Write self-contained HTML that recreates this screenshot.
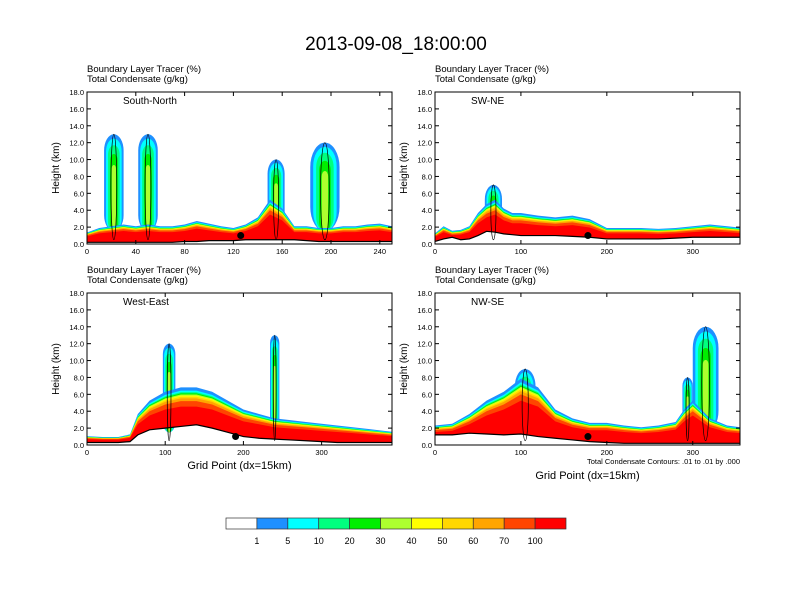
<!DOCTYPE html>
<html><head><meta charset="utf-8"><style>
body{margin:0;background:#fff;}
svg{display:block;font-family:"Liberation Sans",Arial,sans-serif;}
</style></head><body>
<svg id="fig" width="792" height="612" viewBox="0 0 792 612">
<text x="396" y="50" font-size="19" text-anchor="middle">2013-09-08_18:00:00</text>
</svg>
<script>
// ---- data (heights in km, x in grid points) ----
const p1X=[0,10,20,30,40,50,60,70,80,90,100,110,120,130,140,150,160,170,180,190,200,210,220,230,240,250];
const p1BL=[1.3,1.8,2.0,2.2,2.0,2.2,2.0,2.0,2.2,2.6,2.3,2.0,1.8,2.2,3.0,5.0,4.0,2.0,2.0,1.8,1.8,2.0,2.0,2.2,2.3,2.0];
const p1Ter=[0.2,0.2,0.2,0.2,0.2,0.2,0.2,0.2,0.3,0.3,0.4,0.4,0.4,0.5,0.5,0.5,0.5,0.5,0.4,0.3,0.3,0.3,0.3,0.3,0.3,0.3];
const p1Plumes=[[22,16,13],[50,16,13],[155,14,10],[195,24,12]];
const p2X=[0,10,20,30,40,50,60,70,80,90,100,120,140,160,180,200,220,240,260,280,300,320,340,360];
const p2BL=[1.2,2.0,1.5,1.6,2.0,3.5,4.5,5.0,4.0,3.5,3.5,3.2,3.0,3.2,2.8,1.8,1.8,1.8,1.7,1.8,2.0,2.2,2.0,1.8];
const p2Ter=[0.3,0.6,0.8,0.5,0.6,1.0,1.5,1.4,1.2,1.1,1.0,1.0,1.0,0.9,0.8,0.6,0.6,0.6,0.6,0.7,0.8,0.8,0.8,0.8];
const p2Plumes=[[68,20,7]];
const p3X=[0,20,40,55,65,80,100,120,140,160,180,200,220,240,260,280,300,320,340,360,390];
const p3BL=[1.0,0.9,0.9,1.2,3.5,5.0,6.0,6.5,6.5,6.0,5.0,4.0,3.5,3.0,2.8,2.6,2.4,2.2,2.0,1.8,1.5];
const p3Ter=[0.3,0.3,0.3,0.4,1.2,1.8,2.0,2.2,2.4,2.0,1.5,1.0,0.8,0.7,0.6,0.5,0.4,0.3,0.3,0.3,0.3];
const p3Plumes=[[105,16,12],[240,12,13]];
const p4X=[0,20,40,60,80,100,120,140,160,180,200,220,240,260,280,290,300,320,340,355];
const p4BL=[2.2,2.4,3.5,5.0,6.0,7.5,6.5,4.0,3.0,2.5,2.5,2.2,2.0,2.2,2.6,4.0,5.0,3.0,2.2,2.0];
const p4Ter=[1.2,1.2,1.4,1.3,1.2,1.3,1.0,0.8,0.6,0.4,0.3,0.2,0.2,0.2,0.2,0.2,0.2,0.2,0.2,0.2];
const p4Plumes=[[105,24,9],[294,12,8],[315,30,14]];
const colorLabels=["1","5","10","20","30","40","50","60","70","100"];
const colors=["#ffffff","#1e90ff","#00ffff","#00ff7f","#00ee00","#adff2f","#ffff00","#ffd700","#ffa500","#ff4500","#ff0000"];
const bandFrac=[1.05,0.99,0.96,0.94,0.92,0.9,0.88,0.85,0.8,0.7];

const panels=[
 {name:"south-north",label:"South-North",x0:87,y0:92,xmax:250,ticks:[0,40,80,120,160,200,240],X:p1X,BL:p1BL,T:p1Ter,P:p1Plumes,dot:126,xlabel:false},
 {name:"sw-ne",label:"SW-NE",x0:435,y0:92,xmax:355,ticks:[0,100,200,300],X:p2X,BL:p2BL,T:p2Ter,P:p2Plumes,dot:178,xlabel:false},
 {name:"west-east",label:"West-East",x0:87,y0:293,xmax:390,ticks:[0,100,200,300],X:p3X,BL:p3BL,T:p3Ter,P:p3Plumes,dot:190,xlabel:true},
 {name:"nw-se",label:"NW-SE",x0:435,y0:293,xmax:355,ticks:[0,100,200,300],X:p4X,BL:p4BL,T:p4Ter,P:p4Plumes,dot:178,xlabel:true,note:true}
];
const W=305,H=152,NS="http://www.w3.org/2000/svg";
const svg=document.getElementById('fig');
function mk(tag,attrs,parent){const e=document.createElementNS(NS,tag);for(const k in attrs)e.setAttribute(k,attrs[k]);(parent||svg).appendChild(e);return e;}

panels.forEach(p=>{
 const g=mk('g',{});
 
 
 const sx=v=>p.x0+v/p.xmax*W, sy=v=>p.y0+H-v/18*H;
 const clipId='c'+p.name;
 const cp=mk('clipPath',{id:clipId},g);mk('rect',{x:p.x0,y:p.y0,width:W,height:H},cp);
 const plot=mk('g',{'clip-path':'url(#'+clipId+')'},g);
 // plumes
 p.P.forEach(pl=>{
  const [cx,w,top]=pl;
  [["#1e90ff",1.0,1.0],["#00ffff",0.96,0.8],["#00ff7f",0.9,0.6],["#00ee00",0.82,0.4],["#adff2f",0.72,0.22]].forEach(([c,tf,wf])=>{
   const t=top*tf, b=1.5;
   const ww=Math.max(1,sx(w*wf)-sx(0));
   const r=mk('rect',{x:sx(cx)-ww/2,y:sy(t),width:ww,height:sy(b)-sy(t),rx:ww/2,ry:ww/1.2,fill:c},plot);
   
   
  });
 });
 // boundary layer bands
 bandFrac.forEach((f,i)=>{
  let d='M'+sx(p.X[0])+','+sy(p.T[0]);
  p.X.forEach((x,j)=>{d+=' L'+sx(x)+','+sy(Math.max(p.T[j],p.BL[j]*f));});
  for(let j=p.X.length-1;j>=0;j--)d+=' L'+sx(p.X[j])+','+sy(p.T[j]);
  const path=mk('path',{d:d+'Z',fill:colors[i+1]},plot);
  
  
 });
 // terrain line
 let td='';p.X.forEach((x,j)=>{td+=(j?' L':'M')+sx(x)+','+sy(p.T[j]);});
 const tl=mk('path',{d:td,fill:'none',stroke:'#000','stroke-width':1.2},plot);
 
 
 // plume contours
 p.P.forEach(pl=>{
  const [cx,w,top]=pl;
  const e=mk('ellipse',{cx:sx(cx),cy:(sy(top)+sy(0.5))/2,rx:(sx(w*0.3)-sx(0))/2,ry:(sy(0.5)-sy(top))/2,fill:'none',stroke:'#000','stroke-width':0.7},plot);
  
  
 });
 const dot=mk('circle',{cx:sx(p.dot),cy:sy(1.0),r:3.5,fill:'#000'},plot);
 
 
 mk('rect',{x:p.x0,y:p.y0,width:W,height:H,fill:'none',stroke:'#000','stroke-width':1},g);
 for(let v=0;v<=18;v+=2){
  mk('line',{x1:p.x0,x2:p.x0+4,y1:sy(v),y2:sy(v),stroke:'#000'},g);
  mk('line',{x1:p.x0+W,x2:p.x0+W-4,y1:sy(v),y2:sy(v),stroke:'#000'},g);
  const t=mk('text',{x:p.x0-3,y:sy(v)+3,'font-size':7.5,'text-anchor':'end'},g);t.textContent=v.toFixed(1);
  
  
 }
 p.ticks.forEach(v=>{
  mk('line',{x1:sx(v),x2:sx(v),y1:p.y0+H,y2:p.y0+H-4,stroke:'#000'},g);
  mk('line',{x1:sx(v),x2:sx(v),y1:p.y0,y2:p.y0+4,stroke:'#000'},g);
  const t=mk('text',{x:sx(v),y:p.y0+H+10,'font-size':7.5,'text-anchor':'middle'},g);t.textContent=v;
  
  
 });
 const yt=mk('text',{x:0,y:0,'font-size':10,'text-anchor':'middle',transform:`translate(${p.x0-28},${p.y0+H/2}) rotate(-90)`},g);yt.textContent='Height (km)';
 
 
 const l1=mk('text',{x:p.x0,y:p.y0-20,'font-size':9.5},g);l1.textContent='Boundary Layer Tracer   (%)';
 
 
 const l2=mk('text',{x:p.x0,y:p.y0-10,'font-size':9.5},g);l2.textContent='Total Condensate   (g/kg)';
 
 
 const pl=mk('text',{x:p.x0+36,y:p.y0+12,'font-size':10},g);pl.textContent=p.label;
 
 
 if(p.xlabel){
  const xt=mk('text',{x:p.x0+W/2,y:p.y0+H+24+(p.note?10:0),'font-size':11,'text-anchor':'middle'},g);xt.textContent='Grid Point (dx=15km)';
  
  
 }
 if(p.note){
  const n=mk('text',{x:p.x0+W,y:p.y0+H+19,'font-size':7.5,'text-anchor':'end'},g);n.textContent='Total Condensate Contours: .01 to .01 by .000';
  
  
 }
});
const cb=mk('g',{});


const cbx=226,cbw=340,cby=518,cbh=11,bw=cbw/colors.length;
colors.forEach((c,i)=>{
 const r=mk('rect',{x:cbx+i*bw,y:cby,width:bw,height:cbh,fill:c,stroke:'#333','stroke-width':0.7},cb);
 
 
});
colorLabels.forEach((l,i)=>{
 const t=mk('text',{x:cbx+(i+1)*bw,y:cby+26,'font-size':9,'text-anchor':'middle'},cb);t.textContent=l;
 
 
});
</script>
</body></html>
